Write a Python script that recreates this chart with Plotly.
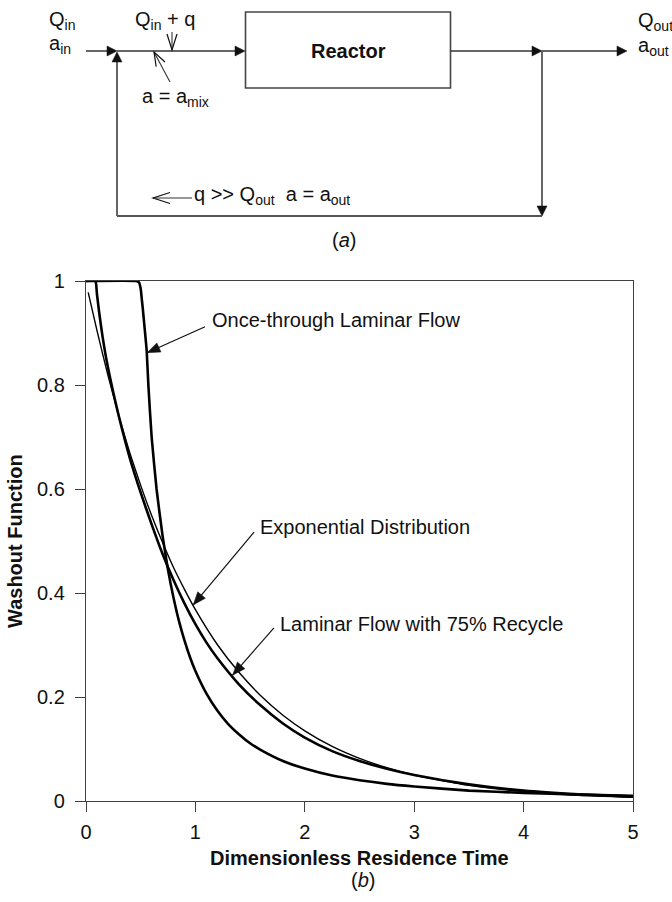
import math
import plotly.graph_objects as go

# ---- washout curves (dimensionless time, washout function) ----
t_exp = [0.02, 0.1, 0.2, 0.3, 0.4, 0.5, 0.6, 0.7, 0.8, 0.9, 1.0, 1.2, 1.4, 1.6,
         1.8, 2.0, 2.25, 2.5, 2.75, 3.0, 3.5, 4.0, 4.5, 5.0]
w_exp = [0.978, 0.905, 0.819, 0.741, 0.670, 0.607, 0.549, 0.497, 0.449, 0.407,
         0.368, 0.301, 0.247, 0.202, 0.165, 0.135, 0.105, 0.082, 0.064, 0.050,
         0.030, 0.018, 0.011, 0.007]

t_once = [0.0, 0.46, 0.485, 0.5, 0.51, 0.52, 0.54, 0.555, 0.57, 0.6, 0.645, 0.7,
          0.75, 0.8, 0.85, 0.9, 0.95, 1.0, 1.1, 1.2, 1.3, 1.4, 1.5, 1.6, 1.8,
          2.0, 2.25, 2.5, 2.75, 3.0, 3.5, 4.0, 4.5, 5.0]
w_once = [1.0, 1.0, 0.997, 0.985, 0.965, 0.945, 0.9, 0.865, 0.80, 0.70, 0.60,
          0.51, 0.444, 0.391, 0.346, 0.309, 0.277, 0.25, 0.207, 0.174, 0.148,
          0.128, 0.111, 0.098, 0.077, 0.0625, 0.049, 0.040, 0.033, 0.028, 0.020,
          0.0156, 0.0123, 0.010]

t_rec = [0.0, 0.085, 0.1, 0.12, 0.15, 0.19, 0.25, 0.3, 0.4, 0.5, 0.6, 0.7, 0.8,
         0.9, 1.0, 1.1, 1.2, 1.4, 1.6, 1.8, 2.0, 2.25, 2.5, 2.75, 3.0, 3.5, 4.0,
         4.5, 5.0]
w_rec = [1.0, 1.0, 0.975, 0.94, 0.895, 0.845, 0.785, 0.74, 0.66, 0.593, 0.532,
         0.475, 0.425, 0.38, 0.34, 0.305, 0.275, 0.224, 0.183, 0.149, 0.122,
         0.096, 0.077, 0.062, 0.05, 0.032, 0.020, 0.013, 0.0085]

x_ticks = [0, 1, 2, 3, 4, 5]
y_ticks = [0, 0.2, 0.4, 0.6, 0.8, 1]
y_tick_text = ["0", "0.2", "0.4", "0.6", "0.8", "1"]

# curve labels: (text, arrow tip on curve (t, W), arrow tail (t, W), text anchor (t, W))
curve_labels = [
    ("Once-through Laminar Flow", (0.558, 0.862), (1.088, 0.912), (1.133, 0.925)),
    ("Exponential Distribution", (0.98, 0.377), (1.536, 0.517), (1.572, 0.527)),
    ("Laminar Flow with 75% Recycle", (1.34, 0.242), (1.718, 0.333), (1.755, 0.340)),
]

FONT = "Liberation Sans, Arial, Helvetica, sans-serif"
INK = "#111111"
LINE = "#404040"

W_FIG, H_FIG = 672, 902
PX_L, PX_R, PX_T, PX_B = 86, 633, 281, 801   # plot frame in page pixels
X_MAX, Y_MAX = 5.0, 1.0


def fx(px):
    return px / W_FIG


def fy(py):
    return 1 - py / H_FIG


def to_px(t, w):
    return (PX_L + (PX_R - PX_L) * t / X_MAX, PX_B - (PX_B - PX_T) * w / Y_MAX)


def seg(p, q, color="#333333", width=1.5):
    return dict(type="line", xref="paper", yref="paper",
                x0=fx(p[0]), y0=fy(p[1]), x1=fx(q[0]), y1=fy(q[1]),
                line=dict(color=color, width=width), layer="above")


def head_pts(tip, tail, length, half):
    dx, dy = tip[0] - tail[0], tip[1] - tail[1]
    d = math.hypot(dx, dy)
    ux, uy = dx / d, dy / d
    bx, by = tip[0] - ux * length, tip[1] - uy * length
    return (bx - uy * half, by + ux * half), (bx + uy * half, by - ux * half)


def solid_head(tip, tail, length=10, half=5, color=INK):
    a, b = head_pts(tip, tail, length, half)
    path = "M {} L {} L {} Z".format(*[f"{fx(x):.5f},{fy(y):.5f}" for x, y in (tip, a, b)])
    return dict(type="path", xref="paper", yref="paper", path=path,
                fillcolor=color, line=dict(color=color, width=0.5), layer="above")


def open_head(tip, tail, length=15, half=5, color=INK, width=1.2):
    a, b = head_pts(tip, tail, length, half)
    path = "M {} L {} L {}".format(*[f"{fx(x):.5f},{fy(y):.5f}" for x, y in (a, tip, b)])
    return dict(type="path", xref="paper", yref="paper", path=path,
                line=dict(color=color, width=width), layer="above")


def label(text, x, y, size=20, anchor="left", bold=False, yanchor="middle"):
    if bold:
        text = f"<b>{text}</b>"
    return dict(text=text, xref="paper", yref="paper", x=fx(x), y=fy(y),
                xanchor=anchor, yanchor=yanchor, showarrow=False,
                font=dict(family=FONT, size=size, color=INK))


fig = go.Figure()
for tx, wy, lw in ((t_once, w_once, 2.6), (t_rec, w_rec, 2.6), (t_exp, w_exp, 1.4)):
    fig.add_trace(go.Scatter(x=tx, y=wy, mode="lines", line=dict(color="#000000", width=lw,
                                                                 shape="spline", smoothing=0.5),
                             hoverinfo="skip", showlegend=False))

shapes = []
annotations = []

# ---- flow diagram (a) ----
shapes.append(dict(type="rect", xref="paper", yref="paper", x0=fx(245.5), x1=fx(450.5),
                   y0=fy(88), y1=fy(12), line=dict(color="#444444", width=1.6), layer="above"))
shapes += [
    seg((86, 51), (110, 51)), solid_head((117, 51), (86, 51)),
    seg((117, 51), (238, 51)), solid_head((245, 51), (117, 51)),
    seg((451, 51), (535, 51)), solid_head((542, 51), (451, 51)),
    seg((542, 51), (620, 51)), solid_head((627, 51), (542, 51)),
    seg((542, 51), (542, 209), color="#555555", width=1.8), solid_head((542, 216), (542, 51)),
    seg((117, 216), (542, 216), color="#555555", width=1.8),
    seg((117, 216), (117, 60), color="#555555", width=1.8), solid_head((117, 52), (117, 216)),
    seg((172, 32), (172, 50), width=1.1), open_head((172, 50), (172, 32), 16, 5),
    seg((170, 82), (154, 52), width=1.1), open_head((154, 52), (170, 82), 14, 5),
    seg((192, 198), (153, 198), width=1.1), open_head((153, 198), (192, 198), 17, 5.5),
]
annotations += [
    label("Q<sub>in</sub>", 47, 20),
    label("a<sub>in</sub>", 47, 44),
    label("Q<sub>in</sub> + q", 133, 20),
    label("a = a<sub>mix</sub>", 140, 97),
    label("Reactor", 348, 51, anchor="center", bold=True),
    label("Q<sub>out</sub>", 636, 21),
    label("a<sub>out</sub>", 636, 46),
    label("q >> Q<sub>out</sub>  a = a<sub>out</sub>", 192, 195),
    label("(<i>a</i>)", 344, 240, anchor="center"),
]

# ---- curve labels with pointer arrows ----
for text, tip, tail, anchor in curve_labels:
    tip_px, tail_px = to_px(*tip), to_px(*tail)
    shapes.append(seg(tail_px, tip_px, color=INK, width=1.2))
    shapes.append(solid_head(tip_px, tail_px, 13, 5))
    ax_px = to_px(*anchor)
    annotations.append(label(text, ax_px[0], ax_px[1]))

# axis titles and panel tag (b)
annotations += [
    label("Dimensionless Residence Time", (PX_L + PX_R) / 2, 858, anchor="center", bold=True),
    label("(<i>b</i>)", 363, 880, anchor="center"),
]
annotations.append(dict(text="<b>Washout Function</b>", xref="paper", yref="paper",
                        x=fx(15), y=fy((PX_T + PX_B) / 2), xanchor="center", yanchor="middle",
                        textangle=-90, showarrow=False,
                        font=dict(family=FONT, size=20, color=INK)))

axis_common = dict(showgrid=False, zeroline=False, showline=True, linecolor=LINE, linewidth=1.4,
                   mirror=True, ticks="outside", ticklen=10, tickwidth=1.3, tickcolor=LINE,
                   tickfont=dict(family=FONT, size=20, color=INK), automargin=False)

fig.update_layout(
    width=W_FIG, height=H_FIG,
    margin=dict(l=0, r=0, t=0, b=0),
    paper_bgcolor="white", plot_bgcolor="white",
    xaxis=dict(domain=[fx(PX_L), fx(PX_R)], range=[0, X_MAX], tickvals=x_ticks,
               ticklabelstandoff=3, **axis_common),
    yaxis=dict(domain=[fy(PX_B), fy(PX_T)], range=[0, Y_MAX], tickvals=y_ticks,
               ticktext=y_tick_text, ticklabelstandoff=6, **axis_common),
    shapes=shapes,
    annotations=annotations,
)

fig.write_html("out.html")
